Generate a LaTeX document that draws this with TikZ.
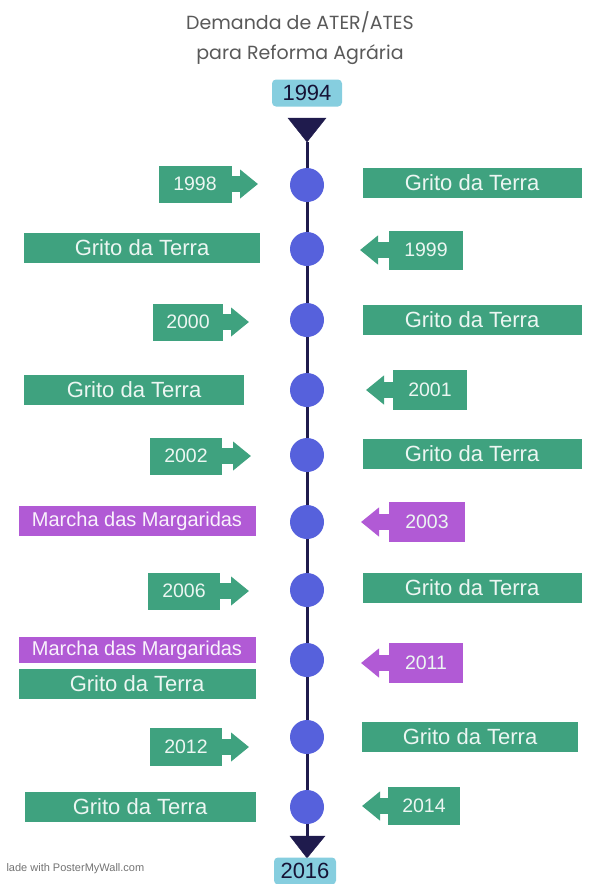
\documentclass[tikz,border=0pt]{standalone}
\usepackage{fontspec}
\setmainfont{Liberation Sans}
\newfontfamily\titlefont{Poppins}
\usetikzlibrary{arrows.meta}

\definecolor{gcor}{HTML}{3FA27F}
\definecolor{mcor}{HTML}{B15AD5}
\definecolor{bolinha}{HTML}{5661DC}
\definecolor{linha}{HTML}{1F1B4D}
\definecolor{anocor}{HTML}{86CEDF}

\tikzset{
  caixa/.style={fill=gcor, text=white!90!gcor, inner sep=0pt, minimum height=30pt},
  gritobox/.style={caixa, minimum width=#1, font=\fontsize{22}{22}\selectfont},
  marchabox/.style={caixa, fill=mcor, text=white!92!mcor, minimum width=237pt, font=\fontsize{20}{20}\selectfont},
  anobox/.style={caixa, minimum width=73pt, minimum height=37pt, font=\fontsize{19.5}{19.5}\selectfont},
  seta/.style={gcor, line width=16pt, -{Triangle[length=18pt,width=28pt]}},
  bola/.style={circle, fill=bolinha, minimum size=34pt, inner sep=0pt},
  marco/.style={fill=anocor, rounded corners=4pt, text=linha!70!black, inner sep=0pt, minimum height=27pt, font=\fontsize{22}{22}\selectfont}
}

\begin{document}
\begin{tikzpicture}[x=1pt, y=-1pt]
    \useasboundingbox (0,0) rectangle (596,884);

    \node[text=black!65, font=\titlefont\fontsize{19}{19}\selectfont] (titulo1) at (300,22) {Demanda de ATER/ATES};
    \node[text=black!65, font=\titlefont\fontsize{19}{19}\selectfont] (titulo2) at (300,55) {para Reforma Agrária};
    \node[marco, minimum width=70pt] (ano94) at (307,93) {1994};

    \filldraw[linha] (288,118) -- (326,118) -- (307,142) coordinate(topo) -- cycle;
    \filldraw[linha] (290,836) coordinate(fim) -- (325,836) -- (307,858) -- cycle;
    \draw[linha, line width=3pt] (topo) -- (307,840);

    \node[bola] (c98) at (307,185) {};
    \node[bola] (c99) at (307,249) {};
    \node[bola] (c00) at (307,320) {};
    \node[bola] (c01) at (307,390) {};
    \node[bola] (c02) at (307,455) {};
    \node[bola] (c03) at (307,522) {};
    \node[bola] (c06) at (307,590) {};
    \node[bola] (c11) at (307,660) {};
    \node[bola] (c12) at (307,737) {};
    \node[bola] (c14) at (307,807) {};

    \node[marco, minimum width=62pt] (ano16) at (305,871) {2016};

    % 1998
    \node[anobox] (y98) at (195,184) {1998};
    \coordinate (t98) at (258,184);
    \draw[seta] (y98.east) -- (t98);
    \node[gritobox=219pt] (g98) at (472,183) {Grito da Terra};

    % 1999
    \node[gritobox=236pt] (g99) at (142,248) {Grito da Terra};
    \node[anobox, minimum width=74pt, minimum height=39pt] (y99) at (426,250) {1999};
    \coordinate (t99) at (360,250);
    \draw[seta] (y99.west) -- (t99);

    % 2000
    \node[anobox, minimum width=70pt] (y00) at (188,322) {2000};
    \coordinate (t00) at (249,322);
    \draw[seta] (y00.east) -- (t00);
    \node[gritobox=219pt] (g00) at (472,320) {Grito da Terra};

    % 2001
    \node[gritobox=220pt] (g01) at (134,390) {Grito da Terra};
    \node[anobox, minimum width=74pt, minimum height=40pt] (y01) at (430,390) {2001};
    \coordinate (t01) at (366,390);
    \draw[seta] (y01.west) -- (t01);

    % 2002
    \node[anobox, minimum width=72pt] (y02) at (186,456) {2002};
    \coordinate (t02) at (251,456);
    \draw[seta] (y02.east) -- (t02);
    \node[gritobox=219pt] (g02) at (472,454) {Grito da Terra};

    % 2003
    \node[marchabox] (m03) at (137,521) {Marcha das Margaridas};
    \node[anobox, fill=mcor, minimum width=76pt, minimum height=40pt] (y03) at (427,522) {2003};
    \coordinate (t03) at (361,522);
    \draw[seta, mcor] (y03.west) -- (t03);

    % 2006
    \node[anobox, minimum width=72pt] (y06) at (184,591) {2006};
    \coordinate (t06) at (249,591);
    \draw[seta] (y06.east) -- (t06);
    \node[gritobox=219pt] (g06) at (472,588) {Grito da Terra};

    % 2011
    \node[marchabox, minimum height=26pt] (m11) at (137,650) {Marcha das Margaridas};
    \node[gritobox=237pt] (g11) at (137,684) {Grito da Terra};
    \node[anobox, fill=mcor, minimum width=74pt, minimum height=40pt] (y11) at (426,663) {2011};
    \coordinate (t11) at (361,663);
    \draw[seta, mcor] (y11.west) -- (t11);

    % 2012
    \node[anobox, minimum width=72pt, minimum height=38pt] (y12) at (186,747) {2012};
    \coordinate (t12) at (249,747);
    \draw[seta] (y12.east) -- (t12);
    \node[gritobox=216pt] (g12) at (470,737) {Grito da Terra};

    % 2014
    \node[gritobox=231pt] (g14) at (140,807) {Grito da Terra};
    \node[anobox, minimum width=72pt, minimum height=38pt] (y14) at (424,806) {2014};
    \coordinate (t14) at (362,806);
    \draw[seta] (y14.west) -- (t14);

    \node[anchor=west, text=black!55, font=\fontsize{11}{11}\selectfont] (marca) at (3,869) {lade with PosterMyWall.com};

\end{tikzpicture}
\end{document}
